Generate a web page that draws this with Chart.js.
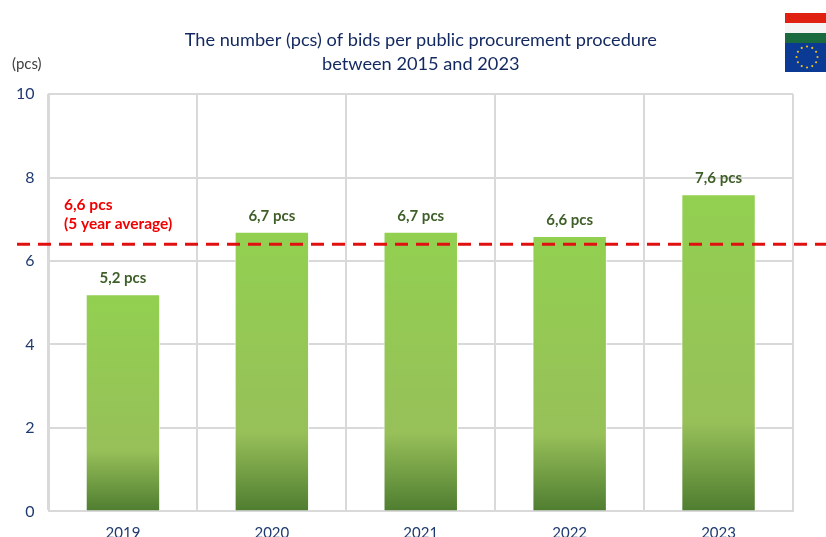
<!DOCTYPE html>
<html><head><meta charset="utf-8">
<style>html,body{margin:0;padding:0;background:#fff}canvas{display:block}</style>
<script src="https://cdn.jsdelivr.net/npm/chart.js@4/dist/chart.umd.min.js"></script>
</head><body><canvas id="c" width="826" height="537"></canvas>
<script>
const categories = ['2019','2020','2021','2022','2023'];
const bidsPerProcedure = [5.2,6.7,6.7,6.6,7.6];
const valueLabels = ['5,2 pcs','6,7 pcs','6,7 pcs','6,6 pcs','7,6 pcs'];
const averageLineValue = [6.4,6.4,6.4,6.4,6.4];
const averageLabel = ['6,6 pcs','(5 year average)'];
const titleLines = ['The number (pcs) of bids per public procurement procedure','between 2015 and 2023'];
const unitLabel = '(pcs)';
const FONT = 'Lato, "Open Sans", sans-serif';

function barGradient(ctx){
  const c = ctx.chart, a = c.chartArea;
  if(!a) return '#92d050';
  const y = c.scales.y, v = ctx.raw;
  if(typeof v !== 'number') return '#92d050';
  const top = y.getPixelForValue(v), bot = y.getPixelForValue(0);
  const g = c.ctx.createLinearGradient(0,top,0,bot);
  g.addColorStop(0,'#92d050');
  g.addColorStop(0.72,'#97c059');
  g.addColorStop(1,'#4f7d30');
  return g;
}
const overlay = {
  id:'overlay',
  afterDatasetsDraw(chart){
    const {ctx,scales:{x,y}} = chart;
    ctx.save();
    ctx.strokeStyle='#e01010'; ctx.lineWidth=3; ctx.setLineDash([13,8]);
    const ly=y.getPixelForValue(averageLineValue[0]);
    ctx.beginPath(); ctx.moveTo(17,ly); ctx.lineTo(826,ly); ctx.stroke();
    ctx.setLineDash([]);
    ctx.font='bold 15px '+FONT; ctx.fillStyle='#3f5f28'; ctx.textAlign='center'; ctx.textBaseline='alphabetic';
    bidsPerProcedure.forEach((v,i)=>{
      ctx.fillText(valueLabels[i], x.getPixelForValue(i), y.getPixelForValue(v)-11);
    });
    ctx.font='bold 15.5px '+FONT;
    ctx.fillStyle='#f00000'; ctx.textAlign='left';
    ctx.fillText(averageLabel[0],64,210);
    ctx.fillText(averageLabel[1],64,229);
    ctx.font='15px '+FONT; ctx.fillStyle='#404040';
    ctx.fillText(unitLabel,12,69);
    ctx.fillStyle='#e02010'; ctx.fillRect(785,13,41,10);
    ctx.fillStyle='#f4f4f4'; ctx.fillRect(785,23,41,10);
    ctx.fillStyle='#1a6a40'; ctx.fillRect(785,33,41,10);
    ctx.fillStyle='#0a3a94'; ctx.fillRect(785,43,41,29);
    ctx.fillStyle='#e8c020';
    for(let i=0;i<12;i++){
      const t=i*Math.PI/6;
      ctx.beginPath(); ctx.arc(807+Math.sin(t)*10.5,57-Math.cos(t)*10.5,1.1,0,7); ctx.fill();
    }
    ctx.restore();
  }
};
new Chart(document.getElementById('c'),{
  type:'bar',
  data:{labels:categories,datasets:[{data:bidsPerProcedure,backgroundColor:barGradient,borderColor:'rgba(255,255,255,0.9)',borderWidth:1,barPercentage:0.5,categoryPercentage:1}]},
  options:{
    responsive:false,animation:false,
    layout:{padding:{left:0,right:33,top:0,bottom:0}},
    plugins:{
      legend:{display:false},tooltip:{enabled:false},
      title:{display:true,text:titleLines,fullSize:false,color:'#12285f',font:{family:FONT,size:18.2,weight:'normal',lineHeight:1.27},padding:{top:29,bottom:18.8}}
    },
    scales:{
      x:{grid:{color:'#d9d9d9',lineWidth:2,offset:true,drawTicks:false},border:{color:'#d9d9d9',width:2},
         ticks:{color:'#1f3a70',font:{family:FONT,size:15},padding:13},
         afterFit(s){s.height=25.6;}},
      y:{min:0,max:10,grid:{color:'#d9d9d9',lineWidth:2,drawTicks:false},border:{color:'#d9d9d9',width:2},
         ticks:{stepSize:2,color:'#1f3a70',font:{family:FONT,size:16},padding:14},
         afterFit(s){s.width=48.5;}}
    }
  },
  plugins:[overlay]
});
</script></body></html>
